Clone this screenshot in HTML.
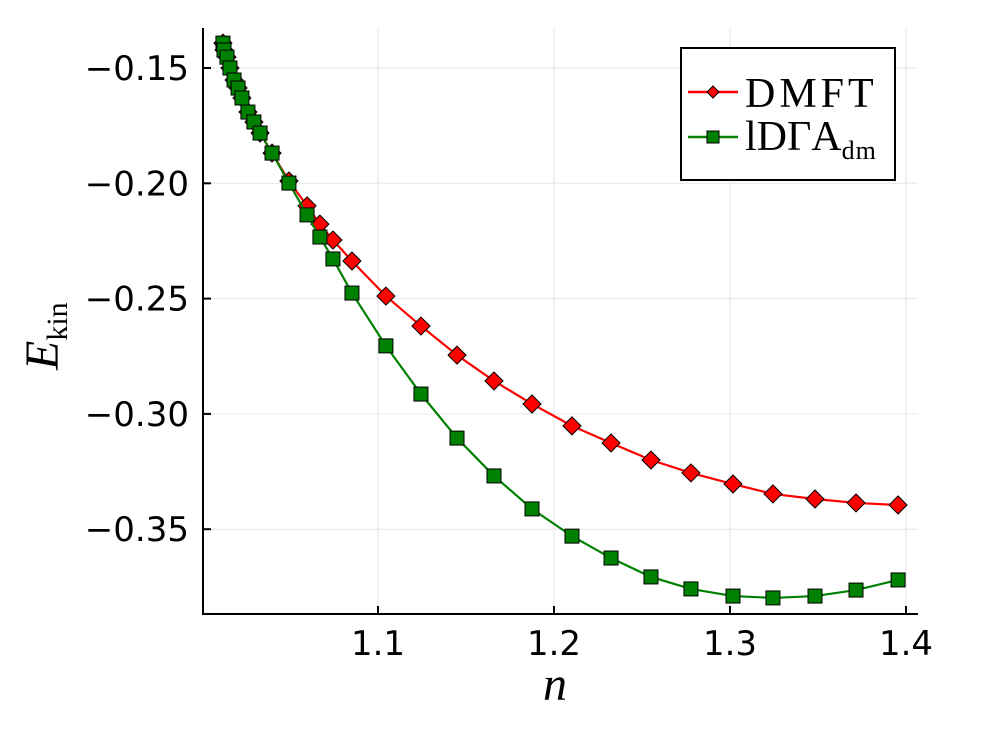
<!DOCTYPE html>
<html><head><meta charset="utf-8"><style>
body{margin:0;background:#fff}
svg{display:block}
.ser{font-family:"Liberation Serif",serif;fill:#000}
</style></head><body>
<svg id="c" width="987" height="740"></svg>
<script>
const nVals=[1.0119,1.0125,1.0142,1.0159,1.0182,1.0205,1.0227,1.0261,1.0295,1.0330,1.0398,1.0494,1.0597,1.0670,1.0744,1.0852,1.1045,1.1244,1.1449,1.1659,1.1875,1.2102,1.2324,1.2551,1.2778,1.3017,1.3244,1.3483,1.3716,1.3955];
const dmftVals=[-0.1392,-0.1422,-0.1453,-0.1500,-0.1552,-0.1587,-0.1630,-0.1691,-0.1734,-0.1782,-0.1869,-0.1990,-0.2098,-0.2177,-0.2246,-0.2337,-0.2489,-0.2619,-0.2745,-0.2857,-0.2957,-0.3052,-0.3126,-0.3200,-0.3256,-0.3304,-0.3347,-0.3369,-0.3386,-0.3395];
const ldgaVals=[-0.1392,-0.1422,-0.1453,-0.1500,-0.1552,-0.1587,-0.1630,-0.1691,-0.1734,-0.1782,-0.1869,-0.1999,-0.2137,-0.2233,-0.2328,-0.2476,-0.2705,-0.2914,-0.3105,-0.3269,-0.3412,-0.3530,-0.3625,-0.3707,-0.3759,-0.3790,-0.3798,-0.3790,-0.3764,-0.3720];
const xTicks=[1.1,1.2,1.3,1.4];
const xTickLabels=["1.1","1.2","1.3","1.4"];
const yTicks=[-0.15,-0.20,-0.25,-0.30,-0.35];
const yTickLabels=["\u22120.15","\u22120.20","\u22120.25","\u22120.30","\u22120.35"];
const L=203,R=918,T=28,B=614;
const X=v=>378+(v-1.1)*1760;
const Y=v=>68-(v+0.15)*115.3/0.05;
const s=document.getElementById('c'),NS='http://www.w3.org/2000/svg';
function mk(t,a,p){const e=document.createElementNS(NS,t);for(const k in a)e.setAttribute(k,a[k]);(p||s).appendChild(e);return e;}
const tf={'font-family':'DejaVu Sans, sans-serif','font-size':34,fill:'#000'};
xTicks.forEach((v,i)=>{
 const g=mk('line',{x1:X(v),x2:X(v),y1:T,y2:B,stroke:'#e6e6e6','stroke-width':1});
 
 
 const t=mk('line',{x1:X(v),x2:X(v),y1:B,y2:B-8,stroke:'#000','stroke-width':2});
 
 
 const l=mk('text',Object.assign({x:X(v),y:655,'text-anchor':'middle'},tf));l.textContent=xTickLabels[i];
 
 
});
yTicks.forEach((v,i)=>{
 const g=mk('line',{x1:L,x2:R,y1:Y(v),y2:Y(v),stroke:'#e6e6e6','stroke-width':1});
 
 
 const t=mk('line',{x1:L,x2:L+8,y1:Y(v),y2:Y(v),stroke:'#000','stroke-width':2});
 
 
 const l=mk('text',Object.assign({x:189,y:Y(v)+12,'text-anchor':'end'},tf));l.textContent=yTickLabels[i];
 
 
});
const ax=mk('path',{d:`M${L} ${T}V${B}H${R}`,fill:'none',stroke:'#000','stroke-width':2});


function series(vals,col,shape,name){
 const g=mk('g',{});
 
 
 mk('polyline',{points:nVals.map((n,i)=>X(n)+','+Y(vals[i])).join(' '),fill:'none',stroke:col,'stroke-width':2.2},g);
 nVals.forEach((n,i)=>{
  const x=X(n),y=Y(vals[i]);let m;
  if(shape==='d')m=mk('polygon',{points:`${x},${y-9} ${x+9},${y} ${x},${y+9} ${x-9},${y}`,fill:'#f00',stroke:'#000','stroke-width':1},g);
  else m=mk('rect',{x:x-7,y:y-7,width:14,height:14,fill:'#008000',stroke:'#000','stroke-width':1},g);
  
  
 });
}
series(dmftVals,'#f00','d','dmft-series');
series(ldgaVals,'#008000','s','ldga-series');
</script>
<svg width="987" height="740" style="position:absolute;left:0;top:0">
<g>
<rect x="681" y="48" width="214" height="132" fill="#fff" stroke="#000" stroke-width="2"/>
<line x1="688" y1="92" x2="738" y2="92" stroke="#f00" stroke-width="2.5"/>
<polygon points="713,86 719,92 713,98 707,92" fill="#f00" stroke="#000"/>
<text x="745" y="107" class="ser" font-size="42" letter-spacing="4">DMFT</text>
<line x1="688" y1="137" x2="738" y2="137" stroke="#008000" stroke-width="2.5"/>
<rect x="707" y="131" width="12" height="12" fill="#008000" stroke="#000"/>
<text x="745" y="150" class="ser" font-size="42">lDΓA<tspan font-size="26" dy="9" letter-spacing="1">dm</tspan></text>
</g>
<text x="555" y="700" text-anchor="middle" class="ser" font-size="48" font-style="italic">n</text>
<text transform="translate(58,370) rotate(-90)" class="ser" font-size="48" font-style="italic">E<tspan font-style="normal" font-size="30" dy="9">kin</tspan></text>
</svg>
</body></html>
